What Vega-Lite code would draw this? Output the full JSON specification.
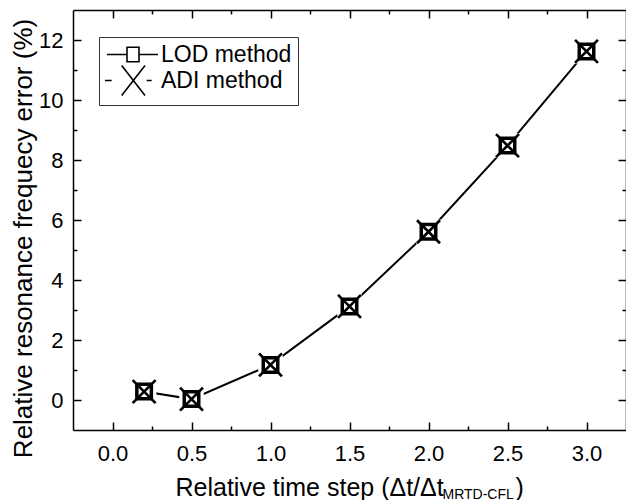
{
  "$schema": "https://vega.github.io/schema/vega-lite/v6.json",
  "width": 553,
  "height": 420,
  "autosize": {"type": "none"},
  "padding": {"left": 73, "top": 10, "right": 0, "bottom": 70},
  "background": "white",
  "config": {
    "view": {"stroke": null},
    "font": "Liberation Sans",
    "axis": {
      "domainColor": "black", "domainWidth": 1.5,
      "tickColor": "black", "tickWidth": 1.5,
      "labelColor": "black", "titleColor": "black",
      "grid": false,
      "labelFont": "Liberation Sans", "titleFont": "Liberation Sans",
      "titleFontWeight": "normal"
    }
  },
  "data": {
    "values": [
      {"method": "LOD method", "step": 0.2, "error": 0.28},
      {"method": "LOD method", "step": 0.5, "error": 0.03},
      {"method": "LOD method", "step": 1.0, "error": 1.17},
      {"method": "LOD method", "step": 1.5, "error": 3.12},
      {"method": "LOD method", "step": 2.0, "error": 5.61},
      {"method": "LOD method", "step": 2.5, "error": 8.48},
      {"method": "LOD method", "step": 3.0, "error": 11.62},
      {"method": "ADI method", "step": 0.2, "error": 0.28},
      {"method": "ADI method", "step": 0.5, "error": 0.03},
      {"method": "ADI method", "step": 1.0, "error": 1.17},
      {"method": "ADI method", "step": 1.5, "error": 3.12},
      {"method": "ADI method", "step": 2.0, "error": 5.61},
      {"method": "ADI method", "step": 2.5, "error": 8.48},
      {"method": "ADI method", "step": 3.0, "error": 11.62}
    ]
  },
  "layer": [
    {
      "transform": [{"filter": "datum.method === 'LOD method'"}],
      "mark": {"type": "line", "color": "black", "strokeWidth": 2},
      "encoding": {
        "x": {
          "field": "step", "type": "quantitative",
          "scale": {"domain": [-0.25, 3.25], "nice": false, "zero": false},
          "axis": {
            "orient": "bottom",
            "values": [0, 0.25, 0.5, 0.75, 1, 1.25, 1.5, 1.75, 2, 2.25, 2.5, 2.75, 3],
            "tickSize": {"condition": {"test": "datum.value % 0.5 === 0", "value": -8}, "value": -4},
            "labelExpr": "datum.value % 0.5 === 0 ? format(datum.value, '.1f') : ''",
            "labelFontSize": 22,
            "labelPadding": 21,
            "labelBaseline": "top",
            "title": "Relative time step (Δt/Δt",
            "titleFontSize": 25,
            "titleAlign": "left",
            "titleAnchor": "start",
            "titleBaseline": "alphabetic",
            "titleX": 102,
            "titleY": 65
          }
        },
        "y": {
          "field": "error", "type": "quantitative",
          "scale": {"domain": [-1, 13], "nice": false, "zero": false},
          "axis": {
            "orient": "left",
            "values": [0, 1, 2, 3, 4, 5, 6, 7, 8, 9, 10, 11, 12],
            "tickSize": {"condition": {"test": "datum.value % 2 === 0", "value": -8}, "value": -4},
            "labelExpr": "datum.value % 2 === 0 ? datum.label : ''",
            "labelFontSize": 22,
            "labelPadding": 18,
            "title": "Relative resonance frequecy error (%)",
            "titleFontSize": 26,
            "titleAlign": "center",
            "titleBaseline": "alphabetic",
            "titleAngle": 270,
            "titleX": -42,
            "titleY": 228
          }
        }
      }
    },
    {
      "transform": [{"filter": "datum.method === 'LOD method'"}],
      "mark": {"type": "point", "shape": "square", "filled": true, "color": "white", "size": 600, "opacity": 1},
      "encoding": {
        "x": {
          "field": "step", "type": "quantitative",
          "axis": {
            "orient": "top",
            "values": [0, 0.25, 0.5, 0.75, 1, 1.25, 1.5, 1.75, 2, 2.25, 2.5, 2.75, 3],
            "tickSize": {"condition": {"test": "datum.value % 0.5 === 0", "value": -8}, "value": -4},
            "labels": false,
            "title": "MRTD-CFL",
            "titleFontSize": 14,
            "titleAlign": "left",
            "titleAnchor": "start",
            "titleBaseline": "alphabetic",
            "titleX": 369,
            "titleY": 488
          }
        },
        "y": {
          "field": "error", "type": "quantitative",
          "axis": {
            "orient": "right",
            "values": [0, 1, 2, 3, 4, 5, 6, 7, 8, 9, 10, 11, 12],
            "tickSize": {"condition": {"test": "datum.value % 2 === 0", "value": -8}, "value": -4},
            "labels": false,
            "title": ")",
            "titleFontSize": 25,
            "titleAngle": 0,
            "titleAlign": "left",
            "titleBaseline": "alphabetic",
            "titleX": -111,
            "titleY": 485
          }
        }
      }
    },
    {
      "transform": [{"filter": "datum.method === 'LOD method'"}],
      "mark": {"type": "point", "shape": "square", "filled": false, "fill": "white", "stroke": "black", "strokeWidth": 3.5, "size": 210, "opacity": 1},
      "encoding": {
        "x": {"field": "step", "type": "quantitative", "axis": null},
        "y": {"field": "error", "type": "quantitative", "axis": null}
      }
    },
    {
      "transform": [{"filter": "datum.method === 'ADI method'"}],
      "mark": {"type": "point", "shape": "M-1.64,-1.64L1.64,1.64M-1.64,1.64L1.64,-1.64", "filled": false, "stroke": "black", "strokeWidth": 2.7, "size": 196, "opacity": 1},
      "encoding": {
        "x": {"field": "step", "type": "quantitative", "axis": null},
        "y": {"field": "error", "type": "quantitative", "axis": null}
      }
    },
    {
      "mark": {"type": "point", "filled": false, "stroke": "black", "strokeWidth": 1.6, "size": 196, "opacity": 0},
      "encoding": {
        "x": {"field": "step", "type": "quantitative", "axis": null},
        "y": {"field": "error", "type": "quantitative", "axis": null},
        "shape": {
          "field": "method", "type": "nominal",
          "scale": {
            "domain": ["LOD method", "ADI method"],
            "range": [
              "M-1.9,0H2.1M4.5,0H8.3M2.1,-1.46H4.5V1.46H2.1Z",
              "M-2.3,0H-0.96M1.04,-3L5.7,3M1.04,3L5.7,-3M6.04,0H7.04"
            ]
          },
          "legend": {
            "title": null,
            "orient": "none",
            "legendX": 26,
            "legendY": 27,
            "strokeColor": "#333",
            "fillColor": "white",
            "padding": 6,
            "labelFontSize": 23,
            "labelFont": "Liberation Sans",
            "labelColor": "black",
            "labelOffset": 33,
            "symbolOpacity": 1,
            "symbolStrokeColor": "black",
            "symbolStrokeWidth": 1.6,
            "symbolFillColor": "transparent",
            "rowPadding": -5
          }
        }
      }
    }
  ],
  "resolve": {"axis": {"x": "independent", "y": "independent"}}
}
